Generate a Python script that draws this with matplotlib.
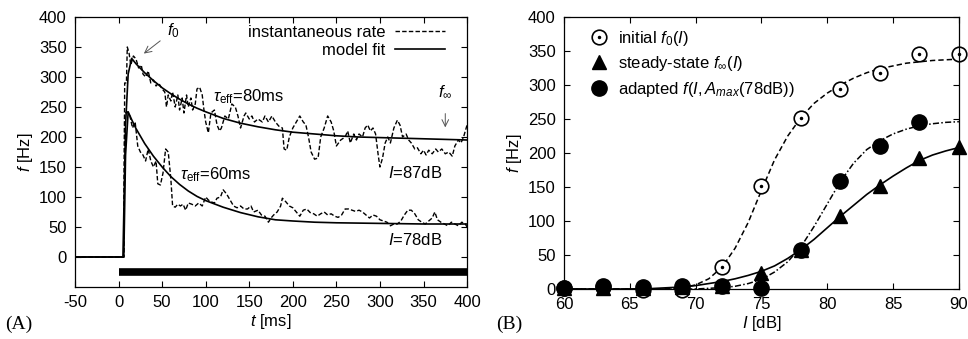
import matplotlib
matplotlib.use('Agg')
import matplotlib.pyplot as plt
from matplotlib.lines import Line2D

plt.rcParams['font.family'] = ['Liberation Sans', 'DejaVu Sans']
plt.rcParams['mathtext.fontset'] = 'custom'
plt.rcParams['mathtext.rm'] = 'Liberation Sans'
plt.rcParams['mathtext.it'] = 'Liberation Sans:italic'
plt.rcParams['axes.unicode_minus'] = False
FS = 12

# ---- panel A data ----
# instantaneous rate, I=87dB
t_rate_87 = [-50, 6, 7, 9, 10, 12, 14, 17, 20, 23, 26, 28, 31, 34, 37, 40, 43, 46, 50, 53, 55, 57, 60, 62, 65,
             68, 70, 73, 75, 78, 80, 83, 85, 88, 90, 93, 96, 98, 100, 103, 106, 110, 113, 116, 118, 122, 126,
             130, 134, 137, 140, 144, 146, 150, 153, 156, 160, 165, 168, 172, 176, 180, 184, 188, 190, 193,
             196, 200, 204, 208, 212, 215, 218, 221, 225, 229, 232, 236, 240, 244, 247, 250, 255, 260, 263,
             266, 270, 273, 276, 280, 283, 286, 289, 292, 295, 298, 300, 303, 306, 309, 312, 316, 320, 323,
             326, 330, 333, 336, 340, 343, 347, 350, 353, 356, 360, 364, 367, 371, 375, 379, 383, 386, 390,
             393, 396, 400]
f_rate_87 = [0, 0, 290, 290, 350, 340, 320, 335, 330, 315, 320, 305, 300, 310, 290, 295, 285, 290, 280, 275,
             250, 270, 260, 275, 250, 270, 245, 265, 240, 270, 250, 265, 245, 255, 280, 283, 270, 245, 225,
             207, 240, 245, 220, 210, 215, 235, 230, 255, 250, 235, 215, 235, 240, 230, 235, 225, 230, 225,
             235, 225, 235, 225, 218, 215, 180, 178, 200, 215, 225, 235, 225, 220, 200, 175, 163, 165, 200,
             215, 235, 225, 210, 185, 195, 200, 210, 190, 205, 195, 205, 200, 215, 220, 210, 215, 205, 170,
             150, 165, 190, 200, 190, 215, 228, 220, 200, 205, 195, 190, 180, 182, 172, 178, 170, 178, 172,
             180, 175, 180, 172, 175, 168, 185, 195, 190, 200, 220]

# instantaneous rate, I=78dB
t_rate_78 = [-50, 6, 7, 10, 13, 16, 19, 22, 25, 28, 31, 34, 37, 40, 43, 45, 48, 51, 54, 57, 60, 62, 65, 68,
             71, 74, 77, 80, 84, 88, 92, 96, 100, 103, 106, 110, 113, 117, 120, 124, 128, 132, 136, 140, 144,
             148, 152, 155, 160, 164, 168, 172, 175, 178, 182, 186, 188, 192, 196, 200, 204, 208, 212, 216,
             220, 224, 228, 232, 236, 240, 244, 248, 252, 256, 260, 264, 268, 272, 276, 280, 284, 288, 292,
             296, 300, 304, 308, 312, 316, 320, 324, 328, 332, 336, 340, 344, 348, 352, 356, 360, 363, 366,
             370, 374, 378, 382, 386, 390, 394, 398, 400]
f_rate_78 = [0, 0, 240, 242, 235, 215, 225, 185, 175, 170, 160, 180, 160, 150, 160, 122, 120, 140, 180, 175,
             130, 85, 83, 88, 85, 88, 78, 90, 88, 85, 90, 85, 100, 95, 92, 90, 98, 100, 112, 105, 95, 85, 82,
             85, 80, 80, 85, 75, 78, 70, 68, 58, 65, 70, 75, 85, 98, 92, 85, 82, 75, 68, 78, 80, 74, 72, 68,
             72, 75, 70, 72, 68, 66, 70, 80, 80, 78, 76, 78, 75, 70, 65, 70, 68, 62, 60, 58, 52, 55, 55, 60,
             70, 78, 78, 72, 62, 58, 55, 60, 65, 75, 62, 58, 55, 52, 58, 55, 52, 58, 55, 50]

# model fits
t_fit_87 = [-50, 5, 8, 11, 15, 20, 30, 40, 50, 60, 70, 80, 90, 100, 120, 140, 160, 180, 200, 225, 250, 275,
            300, 325, 350, 375, 400]
f_fit_87 = [0, 0, 220, 305, 331, 322, 307, 294, 282, 272, 263, 255, 248, 242, 231, 223, 217, 212, 208, 205,
            202, 200, 199, 198, 197, 196, 195]
t_fit_78 = [-50, 6, 8, 11, 15, 20, 30, 40, 50, 60, 70, 80, 90, 100, 120, 140, 160, 180, 200, 225, 250, 300,
            350, 400]
f_fit_78 = [0, 0, 170, 242, 229, 214, 189, 168, 150, 134, 121, 110, 101, 94, 83, 74, 67, 62, 60, 58, 57, 56,
            55, 55]

# stimulus bar
stim_on, stim_off, stim_level = 0, 400, -25

# ---- panel B data ----
I_initial = [60, 63, 66, 69, 72, 75, 78, 81, 84, 87, 90]
f_initial = [2, 3, -2, -2, 33, 151, 251, 294, 318, 345, 346]
I_steady = [60, 63, 66, 69, 72, 75, 78, 81, 84, 87, 90]
f_steady = [1, 2, 2, 3, 5, 24, 57, 108, 152, 193, 209]
I_adapted = [60, 63, 66, 69, 72, 75, 78, 81, 84, 87]
f_adapted = [2, 4, 3, 5, 5, 2, 58, 159, 210, 245]

I_curve = [60, 62, 64, 66, 67, 68, 69, 70, 71, 72, 73, 74, 75, 76, 77, 78, 79, 80, 81, 82, 83, 84, 85, 86,
           87, 88, 89, 90]
fit_initial = [0, 0, 0, 0, 0, 1, 2, 6, 15, 32, 60, 98, 145, 190, 225, 252, 273, 288, 300, 310, 318, 324,
               328, 332, 334, 336, 337, 338]
fit_adapted = [0, 0, 0, 0, 0, 0, 0, 0, 1, 2, 4, 8, 14, 25, 40, 62, 92, 125, 158, 185, 205, 218, 228, 235,
               240, 243, 245, 246]
fit_steady = [0, 0, 0, 0, 1, 2, 3, 5, 8, 11, 15, 20, 26, 34, 45, 58, 73, 90, 107, 123, 139, 153, 166, 178,
              189, 197, 203, 208]

fig = plt.figure(figsize=(9.68, 3.39), dpi=100)
axA = fig.add_axes([0.0775, 0.1534, 0.405, 0.7965])
axB = fig.add_axes([0.5826, 0.1475, 0.408, 0.8025])

for ax in (axA, axB):
    ax.tick_params(direction='in', length=4, width=0.8, top=True, right=True, labelsize=FS, pad=6,
                   colors='black')
    for sp in ax.spines.values():
        sp.set_linewidth(0.9)

# ---- panel A ----
dash = (0, (3.2, 1.6))
axA.plot(t_rate_87, f_rate_87, color='black', lw=1.0, linestyle=dash)
axA.plot(t_rate_78, f_rate_78, color='black', lw=1.0, linestyle=dash)
axA.plot(t_fit_87, f_fit_87, color='black', lw=1.2)
axA.plot(t_fit_78, f_fit_78, color='black', lw=1.2)
axA.hlines(stim_level, stim_on, stim_off, color='black', lw=5.5, capstyle='butt')

axA.set_xlim(-50, 400)
axA.set_ylim(-50, 400)
axA.set_xticks(range(-50, 401, 50))
axA.set_yticks(range(0, 401, 50))
axA.set_xlabel('$t$ [ms]', fontsize=FS, labelpad=1)
axA.set_ylabel('$f$ [Hz]', fontsize=FS, labelpad=3)

axA.annotate('$f_0$', xy=(29, 339), xytext=(56, 370), fontsize=FS,
             arrowprops=dict(arrowstyle='->', color='#555555', lw=0.7, shrinkA=4, shrinkB=0))
axA.annotate(r'$f_\infty$', xy=(375, 216), xytext=(375, 268), fontsize=FS, ha='center',
             arrowprops=dict(arrowstyle='->', color='#555555', lw=0.7, shrinkA=8, shrinkB=0))
axA.text(108, 268, r'$\tau_{\rm eff}$=80ms', fontsize=FS, va='center')
axA.text(70, 138, r'$\tau_{\rm eff}$=60ms', fontsize=FS, va='center')
axA.text(309, 140, '$I$=87dB', fontsize=FS, va='center')
axA.text(309, 29, '$I$=78dB', fontsize=FS, va='center')

legA = [Line2D([], [], color='black', lw=1.0, linestyle=dash),
        Line2D([], [], color='black', lw=1.2)]
axA.legend(legA, ['instantaneous rate', 'model fit'], loc='upper right', frameon=False,
           markerfirst=False, handlelength=3.0, labelspacing=0.15, fontsize=FS,
           borderaxespad=0.1, bbox_to_anchor=(0.965, 1.0), handletextpad=0.6)

fig.text(0.005, 0.03, '(A)', family=['Liberation Serif', 'DejaVu Serif'], fontsize=14)

# ---- panel B ----
axB.plot(I_curve, fit_initial, color='black', lw=1.1, linestyle=(0, (3.5, 2)))
axB.plot(I_curve, fit_adapted, color='black', lw=1.1, linestyle=(0, (4, 1.5, 1, 1.5)))
axB.plot(I_curve, fit_steady, color='black', lw=1.2)

h_circ, = axB.plot(I_initial, f_initial, linestyle='none', marker='o', ms=10.5, mfc='white',
                   mec='black', mew=1.2, clip_on=False)
h_dot, = axB.plot(I_initial, f_initial, linestyle='none', marker='o', ms=1.5, color='black', clip_on=False)
h_tri, = axB.plot(I_steady, f_steady, linestyle='none', marker='^', ms=10, color='black', clip_on=False)
h_fill, = axB.plot(I_adapted, f_adapted, linestyle='none', marker='o', ms=11, color='black', clip_on=False)

axB.set_xlim(60, 90)
axB.set_ylim(0, 400)
axB.set_xticks(range(60, 91, 5))
axB.set_yticks(range(0, 401, 50))
axB.set_xlabel('$I$ [dB]', fontsize=FS, labelpad=1)
axB.set_ylabel('$f$ [Hz]', fontsize=FS, labelpad=3)

axB.legend([(h_circ, h_dot), h_tri, h_fill],
           [r'initial $\mathit{f_0(I)}$', r'steady-state $\mathit{f_\infty(I)}$',
            r'adapted $\mathit{f(I,A_{max}}$(78dB))'],
           loc='upper left', frameon=False, fontsize=FS, labelspacing=0.4, handlelength=1.2,
           handletextpad=0.5, borderaxespad=0.3, bbox_to_anchor=(0.035, 1.0))

fig.text(0.513, 0.03, '(B)', family=['Liberation Serif', 'DejaVu Serif'], fontsize=14)

fig.savefig('out.png', dpi=100)
